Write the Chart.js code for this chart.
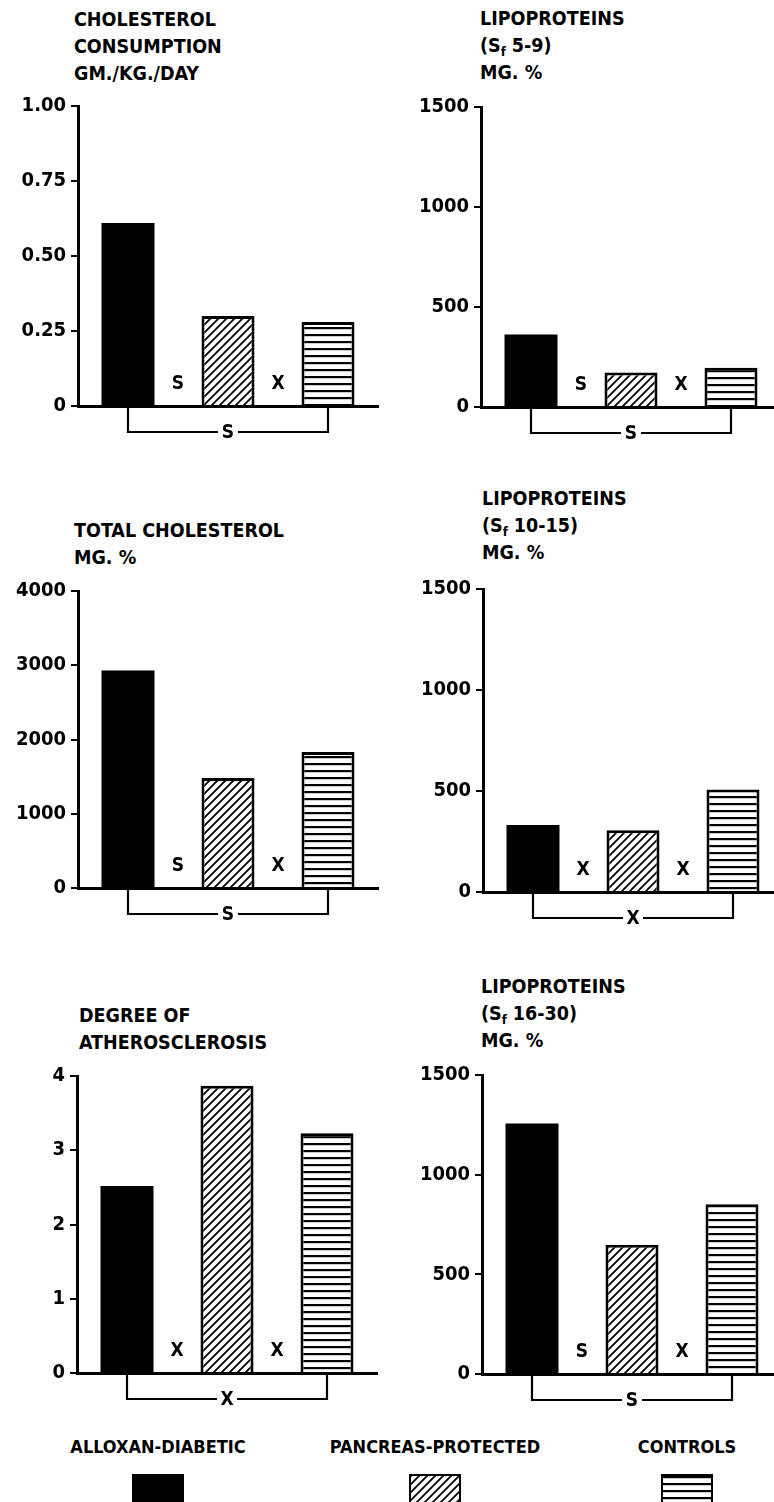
<!DOCTYPE html>
<html>
<head>
<meta charset="utf-8">
<script src="https://cdn.jsdelivr.net/npm/chart.js@4.4.1/dist/chart.umd.min.js"></script>
<style>
  html, body { margin: 0; padding: 0; background: #fff; }
  body { position: relative; width: 774px; height: 1502px; overflow: hidden; }
  .fnt { font-family: 'DejaVu Sans Condensed', 'Liberation Sans Narrow', 'DejaVu Sans', sans-serif; font-weight: bold; color: #000; }
  .ttl { position: absolute; font-size: 19.5px; line-height: 27px; white-space: nowrap; }
  .ttl sub { font-size: 13px; vertical-align: -4px; line-height: 0; }
  canvas { position: absolute; }
  .lab { position: absolute; font-size: 18px; transform: translateX(-50%); white-space: nowrap; }
  .sw { position: absolute; width: 52px; height: 30px; box-sizing: border-box; }
</style>
</head>
<body>
<script>
// groups (same order in every panel)
const groups = ['ALLOXAN-DIABETIC', 'PANCREAS-PROTECTED', 'CONTROLS'];

// values
const cholConsumption = [0.61, 0.30, 0.28];
const lipo5to9 = [362, 173, 196];
const totalChol = [2930, 1480, 1830];
const lipo10to15 = [332, 306, 508];
const atheroDegree = [2.52, 3.87, 3.23];
const lipo16to30 = [1257, 648, 851];

// y tick labels
const ticksConsumption = [0, 0.25, 0.50, 0.75, 1.00];
const ticksLipo = [0, 500, 1000, 1500];
const ticksTotal = [0, 1000, 2000, 3000, 4000];
const ticksAthero = [0, 1, 2, 3, 4];

// significance marks: [between bar 1 & 2, between bar 2 & 3, bracket 1 to 3]
const sigConsumption = ['S', 'X', 'S'];
const sig5to9 = ['S', 'X', 'S'];
const sigTotal = ['S', 'X', 'S'];
const sig10to15 = ['X', 'X', 'X'];
const sigAthero = ['X', 'X', 'X'];
const sig16to30 = ['S', 'X', 'S'];

const FONT = "'DejaVu Sans Condensed', 'Liberation Sans Narrow', 'DejaVu Sans', sans-serif";

// fill patterns
function tile(kind) {
  const c = document.createElement('canvas');
  c.width = 8; c.height = kind === 'diag' ? 8 : 7;
  const g = c.getContext('2d');
  g.fillStyle = '#fff';
  g.fillRect(0, 0, c.width, c.height);
  g.fillStyle = '#000';
  g.strokeStyle = '#000';
  if (kind === 'diag') {
    g.lineWidth = 1.8;
    g.beginPath();
    g.moveTo(-1, 9); g.lineTo(9, -1);
    g.moveTo(-1, 1); g.lineTo(1, -1);
    g.moveTo(7, 9); g.lineTo(9, 7);
    g.stroke();
  } else {
    g.fillRect(0, 0, 8, 2.2);
  }
  return c;
}
const diagTile = tile('diag');
const horizTile = tile('horiz');
const ptx = document.createElement('canvas').getContext('2d');
const fills = ['#000', ptx.createPattern(diagTile, 'repeat'), ptx.createPattern(horizTile, 'repeat')];

const sigPlugin = {
  id: 'sig',
  afterDatasetsDraw(chart, args, opts) {
    const { ctx } = chart;
    const x = chart.scales.x, y = chart.scales.y;
    const base = y.getPixelForValue(0);
    ctx.save();
    ctx.fillStyle = '#000';
    ctx.strokeStyle = '#000';
    ctx.font = 'bold 19px ' + FONT;
    ctx.textAlign = 'center';
    ctx.textBaseline = 'middle';
    for (let i = 0; i < 2; i++) {
      const cx = (x.getPixelForValue(i) + x.getPixelForValue(i + 1)) / 2;
      ctx.fillText(opts.marks[i], cx, base - 22);
    }
    const x0 = x.getPixelForValue(0), x2 = x.getPixelForValue(2);
    const by = base + 26, mid = (x0 + x2) / 2;
    ctx.lineWidth = 2.2;
    ctx.beginPath();
    ctx.moveTo(x0, base + 2); ctx.lineTo(x0, by); ctx.lineTo(mid - 10, by);
    ctx.moveTo(mid + 10, by); ctx.lineTo(x2, by); ctx.lineTo(x2, base + 2);
    ctx.stroke();
    ctx.fillText(opts.marks[2], mid, by + 1);
    ctx.restore();
  }
};

function panel(cfg) {
  const padTop = 14, yW = 78, xH = 45, areaW = 300, padR = 10;
  const cv = document.createElement('canvas');
  cv.width = yW + areaW + padR;
  cv.height = padTop + (cfg.zeroY - cfg.topY) + xH;
  cv.style.left = (cfg.axisX - yW) + 'px';
  cv.style.top = (cfg.topY - padTop) + 'px';
  document.body.appendChild(cv);

  const t = document.createElement('div');
  t.className = 'ttl fnt';
  t.style.left = cfg.titleX + 'px';
  t.style.top = (cfg.titleY - 13.5) + 'px';
  t.innerHTML = cfg.title.join('<br>');
  document.body.appendChild(t);

  const tk = cfg.ticks;
  new Chart(cv.getContext('2d'), {
    type: 'bar',
    data: {
      labels: groups,
      datasets: [{
        data: cfg.values,
        backgroundColor: fills,
        borderColor: '#000',
        borderWidth: [0, 3, 3],
        barPercentage: 0.53,
        categoryPercentage: 1
      }]
    },
    plugins: [sigPlugin],
    options: {
      responsive: false,
      animation: false,
      layout: { padding: { top: padTop, right: padR, left: 0, bottom: 0 } },
      plugins: {
        legend: { display: false },
        tooltip: { enabled: false },
        sig: { marks: cfg.marks }
      },
      scales: {
        x: {
          grid: { display: false },
          ticks: { display: false },
          border: { display: true, color: '#000', width: 3 },
          afterFit: s => { s.height = xH; }
        },
        y: {
          min: tk[0],
          max: tk[tk.length - 1],
          afterBuildTicks: s => { s.ticks = tk.map(v => ({ value: v })); },
          ticks: {
            color: '#000',
            padding: 5,
            font: { family: FONT, size: 20, weight: 'bold' },
            callback: v => v === 0 ? '0' : (cfg.decimals ? v.toFixed(cfg.decimals) : String(v))
          },
          grid: { drawOnChartArea: false, drawTicks: true, tickLength: 7, color: '#000', lineWidth: 2 },
          border: { display: true, color: '#000', width: 3 },
          afterFit: s => { s.width = yW; }
        }
      }
    }
  });
}

panel({ values: cholConsumption, ticks: ticksConsumption, decimals: 2, marks: sigConsumption,
  title: ['CHOLESTEROL', 'CONSUMPTION', 'GM./KG./DAY'], titleX: 74, titleY: 19,
  axisX: 78, topY: 103, zeroY: 406 });
panel({ values: lipo5to9, ticks: ticksLipo, decimals: 0, marks: sig5to9,
  title: ['LIPOPROTEINS', '(S<sub>f</sub> 5-9)', 'MG. %'], titleX: 480, titleY: 18,
  axisX: 481, topY: 104, zeroY: 407 });
panel({ values: totalChol, ticks: ticksTotal, decimals: 0, marks: sigTotal,
  title: ['TOTAL CHOLESTEROL', 'MG. %'], titleX: 74, titleY: 530,
  axisX: 78, topY: 588, zeroY: 888 });
panel({ values: lipo10to15, ticks: ticksLipo, decimals: 0, marks: sig10to15,
  title: ['LIPOPROTEINS', '(S<sub>f</sub> 10-15)', 'MG. %'], titleX: 482, titleY: 498,
  axisX: 483, topY: 586, zeroY: 892 });
panel({ values: atheroDegree, ticks: ticksAthero, decimals: 0, marks: sigAthero,
  title: ['DEGREE OF', 'ATHEROSCLEROSIS'], titleX: 79, titleY: 1015,
  axisX: 77, topY: 1073, zeroY: 1373 });
panel({ values: lipo16to30, ticks: ticksLipo, decimals: 0, marks: sig16to30,
  title: ['LIPOPROTEINS', '(S<sub>f</sub> 16-30)', 'MG. %'], titleX: 481, titleY: 986,
  axisX: 482, topY: 1072, zeroY: 1374 });

// legend: label above a swatch for each group
const legendX = [158, 435, 687];
const swatchBg = ['#000', 'url(' + diagTile.toDataURL() + ')', 'url(' + horizTile.toDataURL() + ')'];
groups.forEach((g, i) => {
  const l = document.createElement('div');
  l.className = 'lab fnt';
  l.style.left = legendX[i] + 'px';
  l.style.top = '1436px';
  l.textContent = g;
  document.body.appendChild(l);
  const s = document.createElement('div');
  s.className = 'sw';
  s.style.left = (legendX[i] - 26) + 'px';
  s.style.top = '1474px';
  s.style.background = swatchBg[i];
  if (i > 0) s.style.border = '2px solid #000';
  document.body.appendChild(s);
});
</script>
</body>
</html>
